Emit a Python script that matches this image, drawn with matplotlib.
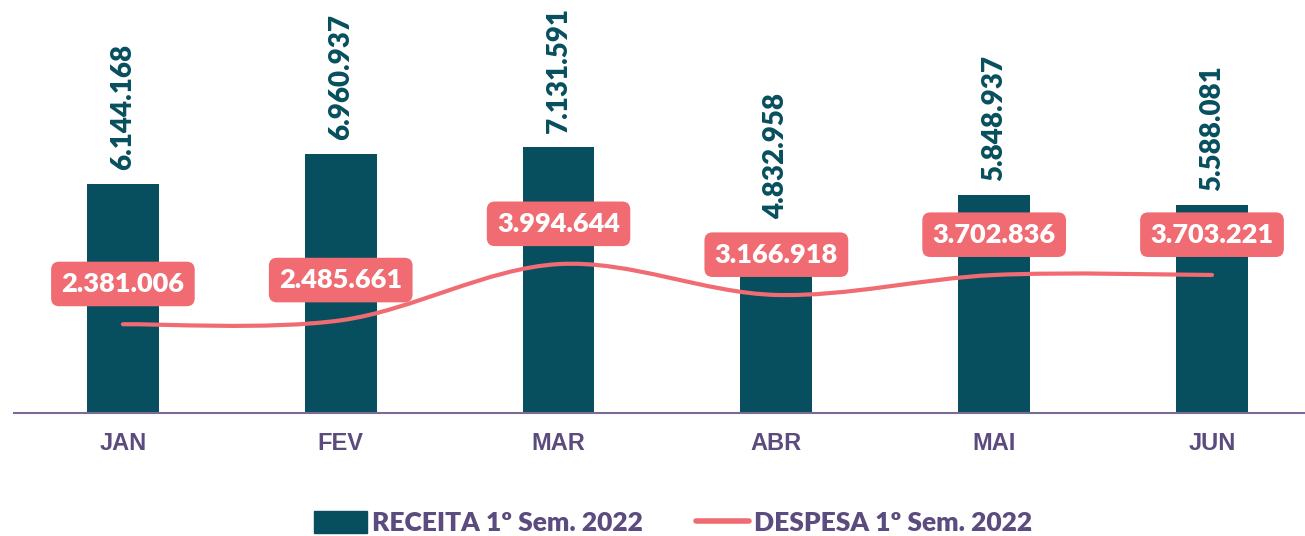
import matplotlib.pyplot as plt
from matplotlib.path import Path
from matplotlib.patches import PathPatch, Patch
from matplotlib.lines import Line2D

# dados do gráfico
meses = ["JAN", "FEV", "MAR", "ABR", "MAI", "JUN"]
receita = [6144168, 6960937, 7131591, 4832958, 5848937, 5588081]
despesa = [2381006, 2485661, 3994644, 3166918, 3702836, 3703221]

cor_barra = "#074F5E"
cor_linha = "#F06B72"
cor_texto = "#5B4B7E"


def fmt(v):
    return f"{v:,}".replace(",", ".")


fig = plt.figure(figsize=(13.05, 5.36), dpi=100)
ax = fig.add_axes([14 / 1305, 123 / 536, 1 - 14 / 1305, 413 / 536])

x = list(range(len(meses)))
ax.bar(x, receita, width=0.33, color=cor_barra, zorder=2)

# linha suavizada (bezier tipo excel)
n = len(despesa)
verts = [(x[0], despesa[0])]
codes = [Path.MOVETO]
for i in range(n - 1):
    a = max(i - 1, 0)
    b = min(i + 2, n - 1)
    c1 = (x[i] + (x[i + 1] - x[a]) / 6, despesa[i] + (despesa[i + 1] - despesa[a]) / 6)
    c2 = (x[i + 1] - (x[b] - x[i]) / 6, despesa[i + 1] - (despesa[b] - despesa[i]) / 6)
    verts += [c1, c2, (x[i + 1], despesa[i + 1])]
    codes += [Path.CURVE4] * 3
ax.add_patch(PathPatch(Path(verts, codes), fill=False, edgecolor=cor_linha,
                       lw=3, capstyle="round", zorder=3))

# rótulos das barras
for xi, v in zip(x, receita):
    ax.annotate(fmt(v), (xi, v), xytext=(0, 10), textcoords="offset points",
                rotation=90, ha="center", va="bottom", fontsize=20,
                fontweight="heavy", family="Lato", color=cor_barra, zorder=4)

# rótulos da linha
for xi, v in zip(x, despesa):
    ax.annotate(fmt(v), (xi, v), xytext=(0, 29), textcoords="offset points",
                ha="center", va="center", fontsize=19.5, fontweight="heavy",
                family="Lato", color="white", zorder=5,
                bbox=dict(boxstyle="round,pad=0.38,rounding_size=0.3",
                          fc=cor_linha, ec="none"))

ax.set_xlim(-0.5, 5.427)
ax.set_ylim(0, 11.08e6)
ax.set_xticks(x)
ax.set_xticklabels(meses, fontsize=17, fontweight="bold",
                   family="Liberation Sans", color=cor_texto)
ax.tick_params(axis="x", length=0, pad=14)
ax.set_yticks([])
for s in ["top", "left", "right"]:
    ax.spines[s].set_visible(False)
ax.spines["bottom"].set_color("#7A6A96")
ax.spines["bottom"].set_linewidth(1.5)

handles = [Patch(color=cor_barra, label="RECEITA 1º Sem. 2022"),
           Line2D([0], [0], color=cor_linha, lw=4, solid_capstyle="round",
                  label="DESPESA 1º Sem. 2022")]
leg = fig.legend(handles=handles, loc="center", bbox_to_anchor=(0.516, 13 / 536),
                 ncol=2, frameon=False, handlelength=2.0, handleheight=0.9,
                 handletextpad=0.2, columnspacing=2.0,
                 prop={"family": "Lato", "weight": "heavy", "size": 19})
for t in leg.get_texts():
    t.set_color(cor_texto)

fig.savefig("out.png", dpi=100)
